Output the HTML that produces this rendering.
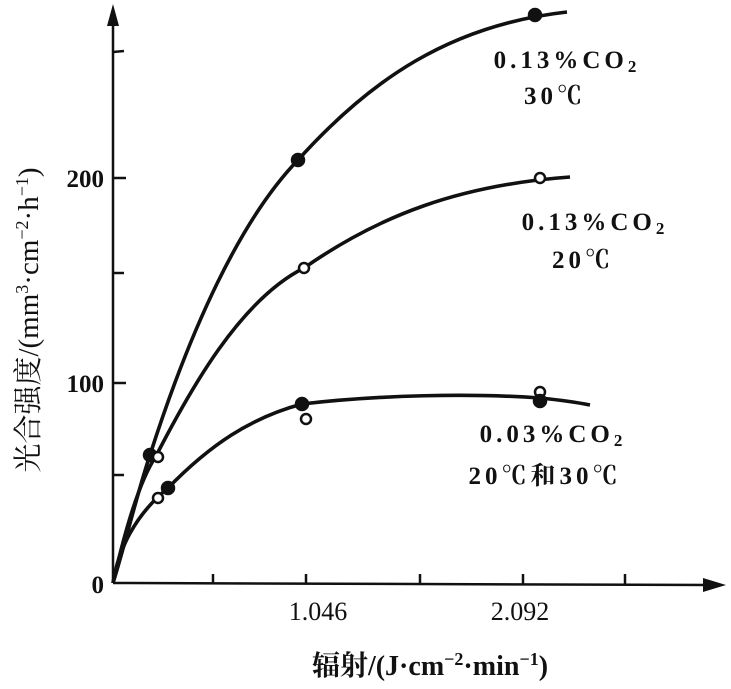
<!DOCTYPE html>
<html><head><meta charset="utf-8"><style>
body{margin:0;background:#fff;}
svg{display:block}
text{font-family:"Liberation Serif","Noto Serif CJK SC",serif;fill:#111}
</style></head><body>
<svg width="731" height="689" viewBox="0 0 731 689">
<g stroke="#111" stroke-width="2.5" fill="none">
<line x1="113" y1="583" x2="113" y2="14"/>
<line x1="113" y1="583" x2="712" y2="585"/>
<line x1="113" y1="52" x2="124" y2="51"/>
<line x1="113" y1="178" x2="126" y2="178"/>
<line x1="113" y1="273" x2="124" y2="273"/>
<line x1="113" y1="383" x2="126" y2="383"/>
<line x1="113" y1="475" x2="124" y2="475"/>
<line x1="213" y1="574" x2="213" y2="584"/>
<line x1="306" y1="574" x2="306" y2="584"/>
<line x1="420" y1="574" x2="420" y2="584"/>
<line x1="523" y1="574" x2="523" y2="585"/>
<line x1="625" y1="574" x2="625" y2="585"/>
</g>
<polygon points="113,4 107,26 119,26" fill="#111"/>
<polygon points="726,585 703,578 703,592" fill="#111"/>
<g stroke="#111" stroke-width="3.6" fill="none">
<path d="M113,583 C125,545 138,490 150,455 C190,330 240,220 298,160 C370,80 450,25 567,12"/>
<path d="M113,583 C125,530 140,480 156,456 C190,390 240,300 304,268 C380,215 460,185 570,177"/>
<path d="M113,583 C118,550 135,515 168,488 C210,445 250,418 302,404 C380,395 470,393 540,398 C560,400 575,402 590,405"/>
</g>
<g stroke="#111" stroke-width="2.5">
<circle cx="150" cy="455" r="6" fill="#111"/>
<circle cx="158" cy="457" r="5" fill="#fff"/>
<circle cx="298" cy="160" r="6" fill="#111"/>
<circle cx="535" cy="15" r="6" fill="#111"/>
<circle cx="304" cy="268" r="5" fill="#fff"/>
<circle cx="540" cy="178" r="5" fill="#fff"/>
<circle cx="158" cy="498" r="5" fill="#fff"/>
<circle cx="168" cy="488" r="6" fill="#111"/>
<circle cx="302" cy="404" r="6" fill="#111"/>
<circle cx="306" cy="419" r="5" fill="#fff"/>
<circle cx="540" cy="392" r="5" fill="#fff"/>
<circle cx="540" cy="401" r="6" fill="#111"/>
</g>
<g font-size="25" text-anchor="end" font-weight="bold">
<text x="104" y="187">200</text>
<text x="104" y="392">100</text>
<text x="104" y="593">0</text>
</g>
<g font-size="26" text-anchor="middle">
<text x="318" y="620">1.046</text>
<text x="520" y="620">2.092</text>
</g>
<text x="430" y="675" font-size="28" text-anchor="middle" font-weight="bold">辐射/(J·cm<tspan font-size="18" dy="-10">−2</tspan><tspan dy="10">·min</tspan><tspan font-size="18" dy="-10">−1</tspan><tspan dy="10">)</tspan></text>
<text transform="translate(38,320) rotate(-90)" font-size="29" text-anchor="middle">光合强度/(mm<tspan font-size="18" dy="-10">3</tspan><tspan dy="10">·cm</tspan><tspan font-size="18" dy="-10">−2</tspan><tspan dy="10">·h</tspan><tspan font-size="18" dy="-10">−1</tspan><tspan dy="10">)</tspan></text>
<g font-size="25" text-anchor="middle" letter-spacing="4" font-weight="bold">
<text x="567" y="68">0.13%CO<tspan font-size="17" dy="4">2</tspan></text>
<text x="555" y="104">30℃</text>
<text x="595" y="230">0.13%CO<tspan font-size="17" dy="4">2</tspan></text>
<text x="583" y="268">20℃</text>
<text x="553" y="442">0.03%CO<tspan font-size="17" dy="4">2</tspan></text>
<text x="545" y="484">20℃和30℃</text>
</g>
</svg>
</body></html>
